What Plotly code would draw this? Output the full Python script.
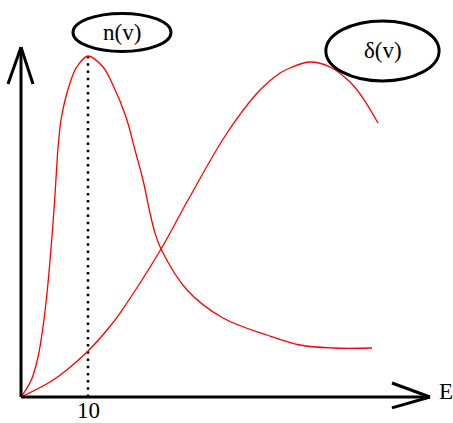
import plotly.graph_objects as go

# n(v) curve, energy vs arbitrary units
n_energy = [0, 1.54, 2.54, 3.28, 3.93, 4.37, 4.78, 5.12, 5.42, 5.63, 6.04, 7.31,
            8.31, 10, 12.24, 13.58, 15.67, 17.01, 18.21, 19.25, 20.0, 20.90,
            24.78, 30.15, 36.72, 41.64, 46.57, 52.39]
n_value = [0, 4.99, 11.73, 20.53, 31.38, 41.06, 51.03, 60.70, 70.38, 75.37,
           82.11, 92.08, 96.77, 100, 96.77, 92.08, 82.11, 72.43, 63.64, 53.96,
           48.09, 43.40, 31.38, 23.17, 18.18, 15.25, 14.37, 14.37]

# delta(v) curve
d_energy = [0, 4.33, 7.01, 10, 12.84, 14.78, 20.90, 24.93, 30.75, 35.67,
            38.66, 40.15, 43.13, 46.12, 49.10, 51.04, 53.28]
d_value = [0, 4.40, 8.21, 13.49, 19.65, 24.63, 43.40, 57.77, 77.42, 90.03,
           95.01, 96.48, 98.24, 96.77, 92.38, 87.68, 80.35]

peak_energy = 10
peak_value = 100
tick_vals = [10]
tick_text = ["10"]

FONT = "Liberation Serif, Times New Roman, serif"

fig = go.Figure()

fig.add_trace(go.Scatter(
    x=[peak_energy, peak_energy], y=[0, peak_value], mode="lines",
    line=dict(color="black", width=2.5, dash="2.5px,4.7px"),
    hoverinfo="skip",
))
fig.add_trace(go.Scatter(
    x=n_energy, y=n_value, mode="lines",
    line=dict(color="red", width=1.3, shape="spline", smoothing=1.0),
))
fig.add_trace(go.Scatter(
    x=d_energy, y=d_value, mode="lines",
    line=dict(color="red", width=1.3, shape="spline", smoothing=1.0),
))

black = dict(color="black", width=3)
shapes = [
    # axes
    dict(type="line", x0=0, y0=0, x1=61.04, y1=0, line=black),
    dict(type="line", x0=0, y0=0, x1=0, y1=102.6, line=black),
    # arrow heads
    dict(type="line", x0=-1.94, y0=91.8, x1=0, y1=102.6, line=black),
    dict(type="line", x0=1.79, y0=91.8, x1=0, y1=102.6, line=black),
    dict(type="line", x0=55.37, y0=4.1, x1=61.04, y1=0, line=black),
    dict(type="line", x0=55.37, y0=-3.2, x1=61.04, y1=0, line=black),
    # label ellipses
    dict(type="circle", x0=7.76, x1=22.39, y0=101.3, y1=112.5, line=black),
    dict(type="circle", x0=45.5, x1=62.4, y0=92.7, y1=110.3, line=black),
]

txt = dict(family=FONT, size=23, color="black")
annotations = [
    dict(x=15.07, y=106.9, text="n(v)", showarrow=False, font=txt),
    dict(x=54.0, y=101.5, text="δ(v)", showarrow=False, font=txt),
    dict(x=63.5, y=1.5, text="E", showarrow=False, font=txt),
]
for v, t in zip(tick_vals, tick_text):
    annotations.append(dict(x=v, y=-4.1, text=t, showarrow=False, font=txt))

fig.update_layout(
    width=453, height=423,
    margin=dict(l=0, r=0, t=0, b=0),
    paper_bgcolor="white", plot_bgcolor="white",
    showlegend=False,
    shapes=shapes,
    annotations=annotations,
    xaxis=dict(range=[-21 / 6.7, 432 / 6.7], showgrid=False, zeroline=False,
               showline=False, showticklabels=False),
    yaxis=dict(range=[-26 / 3.41, 397 / 3.41], showgrid=False, zeroline=False,
               showline=False, showticklabels=False),
)

fig.write_html("out.html", config={"displayModeBar": False},
               post_script="document.body.style.margin='0';")
